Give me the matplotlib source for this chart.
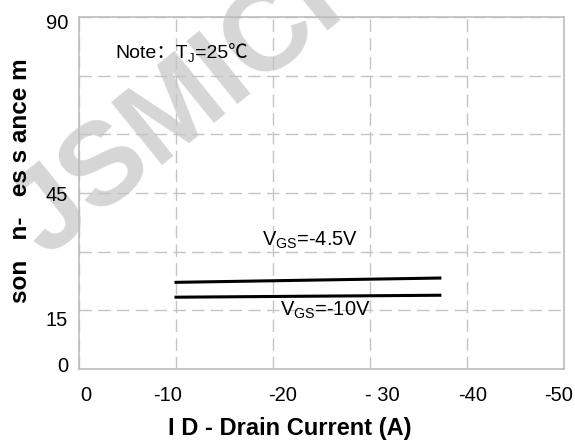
import matplotlib
matplotlib.use("Agg")
import matplotlib.pyplot as plt
from matplotlib.transforms import ScaledTranslation

plt.rcParams['font.family'] = ['Liberation Sans', 'Noto Sans CJK SC', 'DejaVu Sans']
plt.rcParams['mathtext.fontset'] = 'custom'
plt.rcParams['mathtext.rm'] = 'Liberation Sans'
plt.rcParams['mathtext.it'] = 'Liberation Sans'
plt.rcParams['axes.unicode_minus'] = False

# data
x_ticks = [0, -10, -20, -30, -40, -50]
x_labels = ["0", "-10", "-20", "- 30", "-40", "-50"]
y_ticks = [0, 15, 30, 45, 60, 75, 90]
y_labels = ["0", "15", "", "45", "", "", "90"]

id_current = [-10, -37.2]
rds_vgs_45 = [22.2, 23.3]
rds_vgs_10 = [18.4, 18.9]

fig = plt.figure(figsize=(5.75, 4.4), dpi=100)
ax = fig.add_axes([0.1374, 0.161, 0.8436, 0.80])
ax.patch.set_alpha(0)

# watermark behind everything
fig.text(0.080, 0.412, "JSMICRO", fontsize=84, fontweight="bold", color="#d6d6d6",
         rotation=39, rotation_mode="anchor", ha="left", va="baseline",
         zorder=-1)

ax.plot(id_current, rds_vgs_45, color="black", lw=2.2)
ax.plot(id_current, rds_vgs_10, color="black", lw=2.2)

ax.set_xlim(0, -50)
ax.set_ylim(0, 90)
ax.set_xticks(x_ticks)
ax.set_xticklabels(x_labels, fontsize=14.5)
ax.set_yticks(y_ticks)
ax.set_yticklabels(y_labels, fontsize=14.5)
ax.tick_params(length=0)
ax.tick_params(axis="x", pad=12)
ax.tick_params(axis="y", pad=8)

ax.grid(True, color="#c4c4c4", lw=1.0, linestyle=(0, (9, 4.5)))
for s in ax.spines.values():
    s.set_color("#bdbdbd")
    s.set_linewidth(1.2)

# labels in the reference sit a little off their ticks
x_shift = [7, -8, 10, 12, 6, -6]
for lab, dx in zip(ax.get_xticklabels(), x_shift):
    lab.set_transform(lab.get_transform() + ScaledTranslation(dx / 100, 0, fig.dpi_scale_trans))
y_shift = [5, -8, 0, 0, 0, 0, -4]
for lab, dy in zip(ax.get_yticklabels(), y_shift):
    lab.set_transform(lab.get_transform() + ScaledTranslation(0, dy / 100, fig.dpi_scale_trans))

# note, built from pieces so the CJK colon and the degree sign fall back
note_y = 79.5
t1 = ax.text(-3.7, note_y, "Note\uff1aT", fontsize=14, ha="left", va="baseline")
t2 = ax.annotate("J", xy=(1, note_y), xycoords=(t1, "data"), xytext=(0.3, -3),
                 textcoords="offset points", fontsize=9.5, ha="left", va="baseline")
ax.annotate("=25\u2103", xy=(1, note_y), xycoords=(t2, "data"), xytext=(0.3, 0),
            textcoords="offset points", fontsize=14, ha="left", va="baseline")

ax.text(-23.8, 33.0, "V$_\\mathrm{GS}$=-4.5V", fontsize=14.5, ha="center", va="center")
ax.text(-25.4, 15.1, "V$_\\mathrm{GS}$=-10V", fontsize=14.5, ha="center", va="center")

fig.text(290 / 575, 1 - 428 / 440, "I D - Drain Current (A)", fontsize=17,
         fontweight="bold", ha="center", va="center")
fig.text(21 / 575, 1 - 181 / 440, "son   n-   es s ance m", fontsize=17.5,
         fontweight="bold", rotation=90, ha="center", va="center")

fig.savefig("out.png", dpi=100)
